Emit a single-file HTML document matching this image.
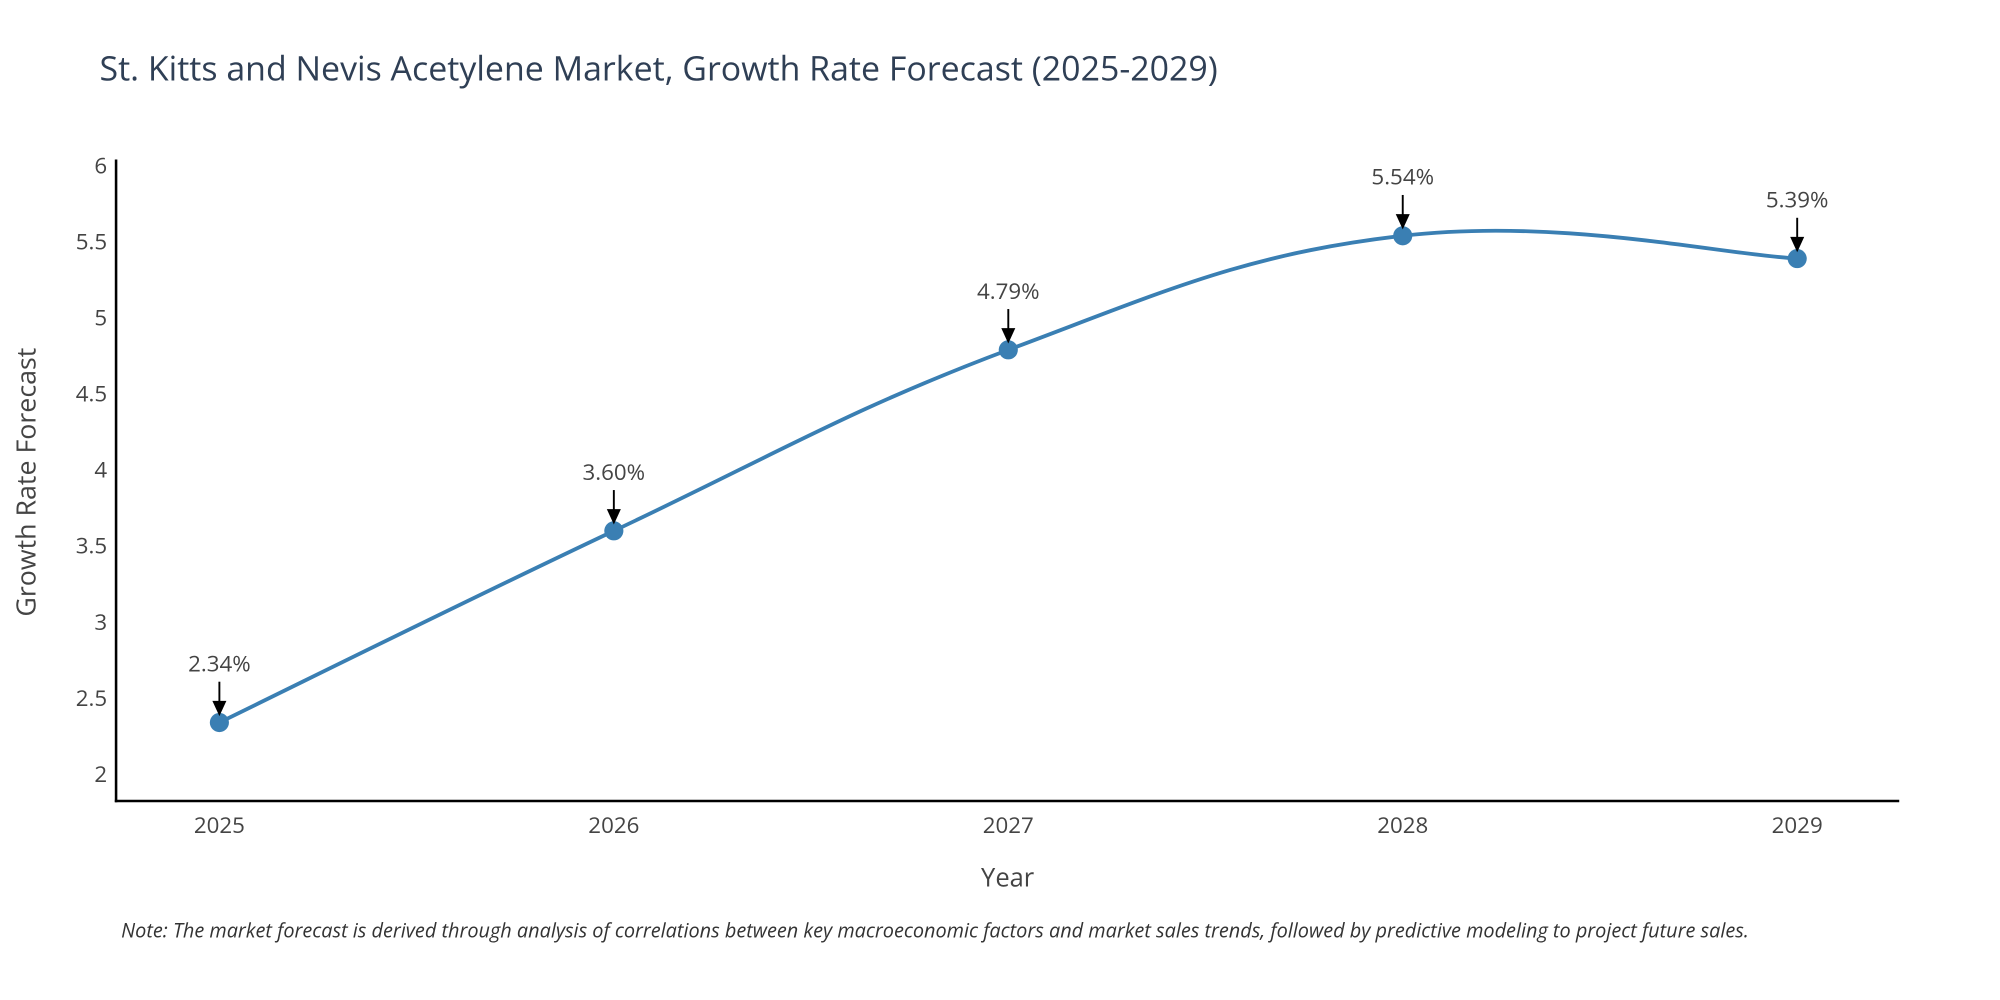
<!DOCTYPE html>
<html><head><meta charset="utf-8"><style>
html,body{margin:0;padding:0;background:#fff;width:2000px;height:1000px;overflow:hidden}
svg{display:block;font-family:"Open Sans","Liberation Sans",sans-serif}
</style></head><body>
<svg id="chart" width="2000" height="1000" viewBox="0 0 1568 784" xmlns="http://www.w3.org/2000/svg">
<text x="78" y="63" font-size="26.6" fill="#2f3f55">St. Kitts and Nevis Acetylene Market, Growth Rate Forecast (2025-2029)</text>
<g id="yticks"></g>
<g id="xticks"></g>
<line x1="91" y1="125" x2="91" y2="629" stroke="#000" stroke-width="2"/>
<line x1="90" y1="628" x2="1489" y2="628" stroke="#000" stroke-width="2"/>
<text transform="translate(28,378) rotate(-90)" text-anchor="middle" font-size="21" fill="#444">Growth Rate Forecast</text>
<text x="790" y="695" text-anchor="middle" font-size="20" fill="#444">Year</text>
<text x="95" y="735" font-size="15.6" font-style="italic" fill="#333">Note: The market forecast is derived through analysis of correlations between key macroeconomic factors and market sales trends, followed by predictive modeling to project future sales.</text>
<g id="series"></g>
</svg>
<script>
const years = ["2025","2026","2027","2028","2029"];
const values = [2.34, 3.60, 4.79, 5.54, 5.39];
const labels = ["2.34%","3.60%","4.79%","5.54%","5.39%"];
const yTicks = [2, 2.5, 3, 3.5, 4, 4.5, 5, 5.5, 6];
const yTickLabels = ["2","2.5","3","3.5","4","4.5","5","5.5","6"];

const NS = "http://www.w3.org/2000/svg";
const x = i => 172 + i * (1409 - 172) / (years.length - 1);
const y = v => 607 - (v - 2) * (607 - 130) / 4;
function mk(tag, attrs, parent){const e=document.createElementNS(NS,tag);for(const k in attrs)e.setAttribute(k,attrs[k]);parent.appendChild(e);return e;}

const yg = document.getElementById('yticks');
yTicks.forEach((t,i)=>{
  const e = mk('text',{x:84,y:y(t)+6,'text-anchor':'end','font-size':17.5,fill:'#444'},yg);
  
  
  e.textContent = yTickLabels[i];
});
const xg = document.getElementById('xticks');
years.forEach((yr,i)=>{
  const e = mk('text',{x:x(i),y:653,'text-anchor':'middle','font-size':17.5,fill:'#444'},xg);
  
  
  e.textContent = yr;
});

const sg = document.getElementById('series');
const pts = values.map((v,i)=>[x(i),y(v)]);
let d = `M${pts[0][0]},${pts[0][1]}`;
for(let i=0;i<pts.length-1;i++){
  const p0=pts[Math.max(0,i-1)],p1=pts[i],p2=pts[i+1],p3=pts[Math.min(pts.length-1,i+2)];
  const s=0.2;
  const c1=[p1[0]+(p2[0]-p0[0])*s,p1[1]+(p2[1]-p0[1])*s];
  const c2=[p2[0]-(p3[0]-p1[0])*s,p2[1]-(p3[1]-p1[1])*s];
  d+=` C${c1[0]},${c1[1]} ${c2[0]},${c2[1]} ${p2[0]},${p2[1]}`;
}
const line = mk('path',{d:d,fill:'none',stroke:'#3a7fb3','stroke-width':3},sg);


pts.forEach((p,i)=>{
  const c = mk('circle',{cx:p[0],cy:p[1],r:7.5,fill:'#3a7fb3'},sg);
  
  
  const a = mk('line',{x1:p[0],y1:p[1]-32,x2:p[0],y2:p[1]-14,stroke:'#000','stroke-width':1.5},sg);
  
  
  const h = mk('path',{d:`M${p[0]-5.5},${p[1]-17} L${p[0]+5.5},${p[1]-17} L${p[0]},${p[1]-5} Z`,fill:'#000'},sg);
  
  
  const t = mk('text',{x:p[0],y:p[1]-40,'text-anchor':'middle','font-size':17.5,fill:'#444'},sg);
  
  
  t.textContent = labels[i];
});
</script>
</body></html>
